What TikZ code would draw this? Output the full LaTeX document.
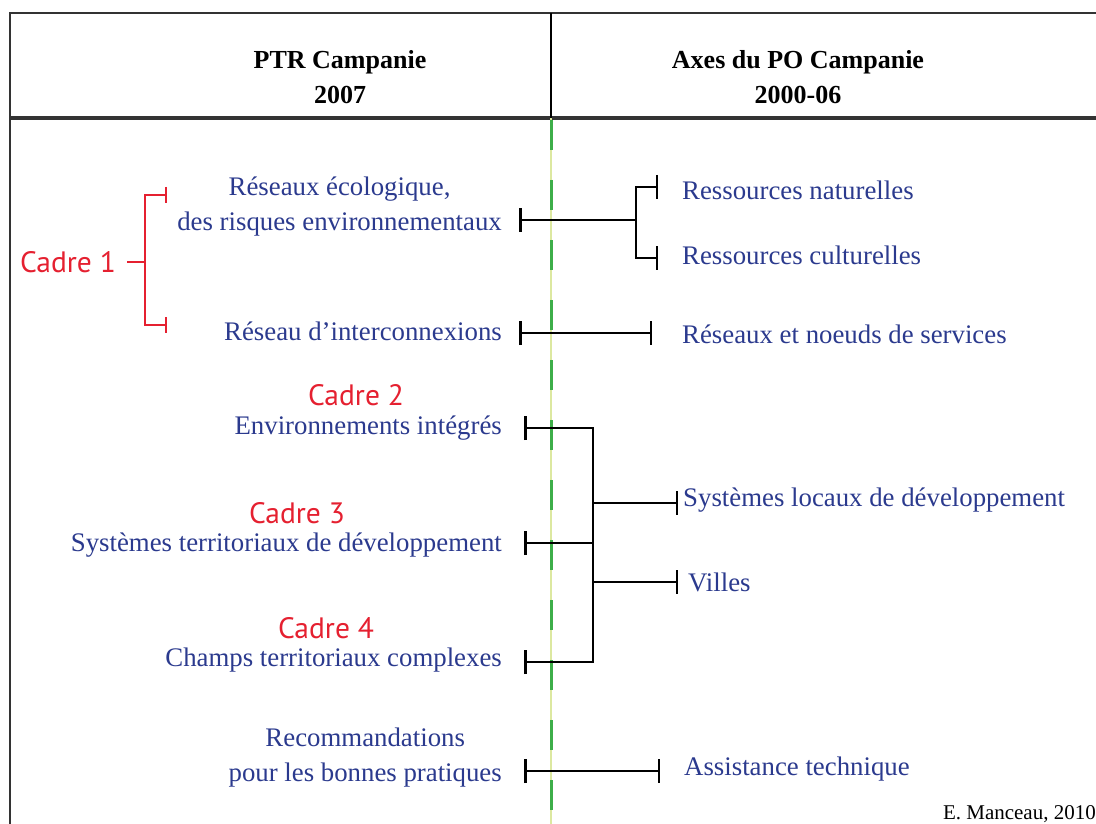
\documentclass[tikz,border=0pt]{standalone}
\usepackage{fontspec}
\setmainfont{Liberation Serif}[Ligatures=ResetAll]
\newfontfamily\cadrefont{PT Sans}
\usetikzlibrary{arrows.meta}
\definecolor{txtblue}{HTML}{2B3A8E}
\definecolor{cadrered}{HTML}{E52030}
\definecolor{dashgreen}{HTML}{3DAE49}
\definecolor{paleline}{HTML}{DCE8A0}
\definecolor{framegray}{HTML}{333333}
\begin{document}
\begin{tikzpicture}[x=1pt,y=-1pt,
  lbl/.style={text=txtblue, font=\fontsize{26.8}{35}\selectfont, inner sep=0pt, align=center},
  head/.style={text=black, font=\fontsize{26}{35}\selectfont\bfseries, inner sep=0pt, align=center},
  cadre/.style={text=cadrered, font=\cadrefont\fontsize{29.5}{32}\selectfont, inner sep=0pt},
  conn/.style={draw=black, line width=2.5pt},
  redconn/.style={draw=cadrered, line width=2pt},
  tick/.tip={Bar[width=24pt,line width=2.5pt]},
  redtick/.tip={Bar[width=16pt,line width=2pt]}
]
\useasboundingbox (0,0) rectangle (1096,824);
\fill[white] (0,0) rectangle (1096,824);

% frame and header
\coordinate (frBL) at (10,824);
\coordinate (frTL) at (10,13);
\coordinate (frTR) at (1096,13);
\coordinate (hdL) at (10,118);
\coordinate (hdR) at (1096,118);
\coordinate (divT) at (551,13);
\coordinate (divB) at (551,118);
\coordinate (axB) at (551,824);
\coordinate (axT) at (551,120);
\draw[framegray, line width=1.5pt] (frBL) -- (frTL) -- (frTR);
\draw[framegray, line width=3.5pt] (hdL) -- (hdR);
\draw[black, line width=2pt] (divT) -- (divB);
\draw[paleline, line width=1.2pt] (divB) -- (axB);
\draw[dashgreen, line width=3pt, dash pattern=on 30pt off 30pt] (axT) -- (axB);

\node[head] (hleft) at (340,77.5) {PTR Campanie\\2007};
\node[head] (hright) at (798,77.5) {Axes du PO Campanie\\2000-06};

% left column
\node[cadre, anchor=base] (cadre1) at (68,272) {Cadre 1};
\node[lbl, anchor=east] (reseco) at (502,207) {Réseaux écologique,\\des risques environnementaux};
\node[lbl, anchor=base east] (resint) at (502,340) {Réseau d'interconnexions};
\node[cadre, anchor=base] (cadre2) at (356,405) {Cadre 2};
\node[lbl, anchor=base east] (envint) at (502,434) {Environnements intégrés};
\node[cadre, anchor=base] (cadre3) at (297,523) {Cadre 3};
\node[lbl, anchor=base east] (systerr) at (502,551) {Systèmes territoriaux de développement};
\node[cadre, anchor=base] (cadre4) at (326,638) {Cadre 4};
\node[lbl, anchor=base east] (champs) at (502,666) {Champs territoriaux complexes};
\node[lbl, anchor=east] (recom) at (502,758) {Recommandations\\pour les bonnes pratiques};

% right column
\node[lbl, anchor=base west] (ressnat) at (682,200) {Ressources naturelles};
\node[lbl, anchor=base west] (resscult) at (682,265) {Ressources culturelles};
\node[lbl, anchor=base west] (resnoeud) at (682,343) {Réseaux et noeuds de services};
\node[lbl, anchor=base west] (sysloc) at (683,506) {Systèmes locaux de développement};
\node[lbl, anchor=base west] (villes) at (688,591) {Villes};
\node[lbl, anchor=base west] (assist) at (684,775) {Assistance technique};
\node[text=black, font=\fontsize{21}{24}\selectfont, inner sep=0pt, anchor=base east] (credit) at (1096,819) {E. Manceau, 2010};

% Cadre 1 bracket
\coordinate (c1s) at (127,262);
\coordinate (c1j) at (145,262);
\coordinate (c1a) at (167,195);
\coordinate (c1b) at (167,325);
\draw[redconn] (c1s) -- (c1j);
\draw[redconn, -{redtick}] (c1j) |- (c1a);
\draw[redconn, -{redtick}] (c1j) |- (c1b);

% connector 1 (fork)
\coordinate (k1L) at (519,220);
\coordinate (k1J) at (636,220);
\coordinate (k1A) at (658,187);
\coordinate (k1B) at (658,258);
\draw[conn, {tick}-] (k1L) -- (k1J);
\draw[conn, -{tick}] (k1J) |- (k1A);
\draw[conn, -{tick}] (k1J) |- (k1B);

% connector 2
\coordinate (k2L) at (519,333);
\coordinate (k2R) at (652,333);
\draw[conn, {tick}-{tick}] (k2L) -- (k2R);

% cluster
\coordinate (eT) at (524,428);
\coordinate (eJ) at (593,428);
\coordinate (cT) at (524,662);
\coordinate (cJ) at (593,662);
\coordinate (sT) at (524,543);
\coordinate (sJ) at (593,543);
\coordinate (lJ) at (593,503);
\coordinate (lT) at (678,503);
\coordinate (vJ) at (593,582);
\coordinate (vT) at (678,582);
\draw[conn, {tick}-{tick}] (eT) -- (eJ) -- (cJ) -- (cT);
\draw[conn, {tick}-] (sT) -- (sJ);
\draw[conn, -{tick}] (lJ) -- (lT);
\draw[conn, -{tick}] (vJ) -- (vT);

% last connector
\coordinate (k3L) at (524,771);
\coordinate (k3R) at (660,771);
\draw[conn, {tick}-{tick}] (k3L) -- (k3R);
\end{tikzpicture}
\end{document}
